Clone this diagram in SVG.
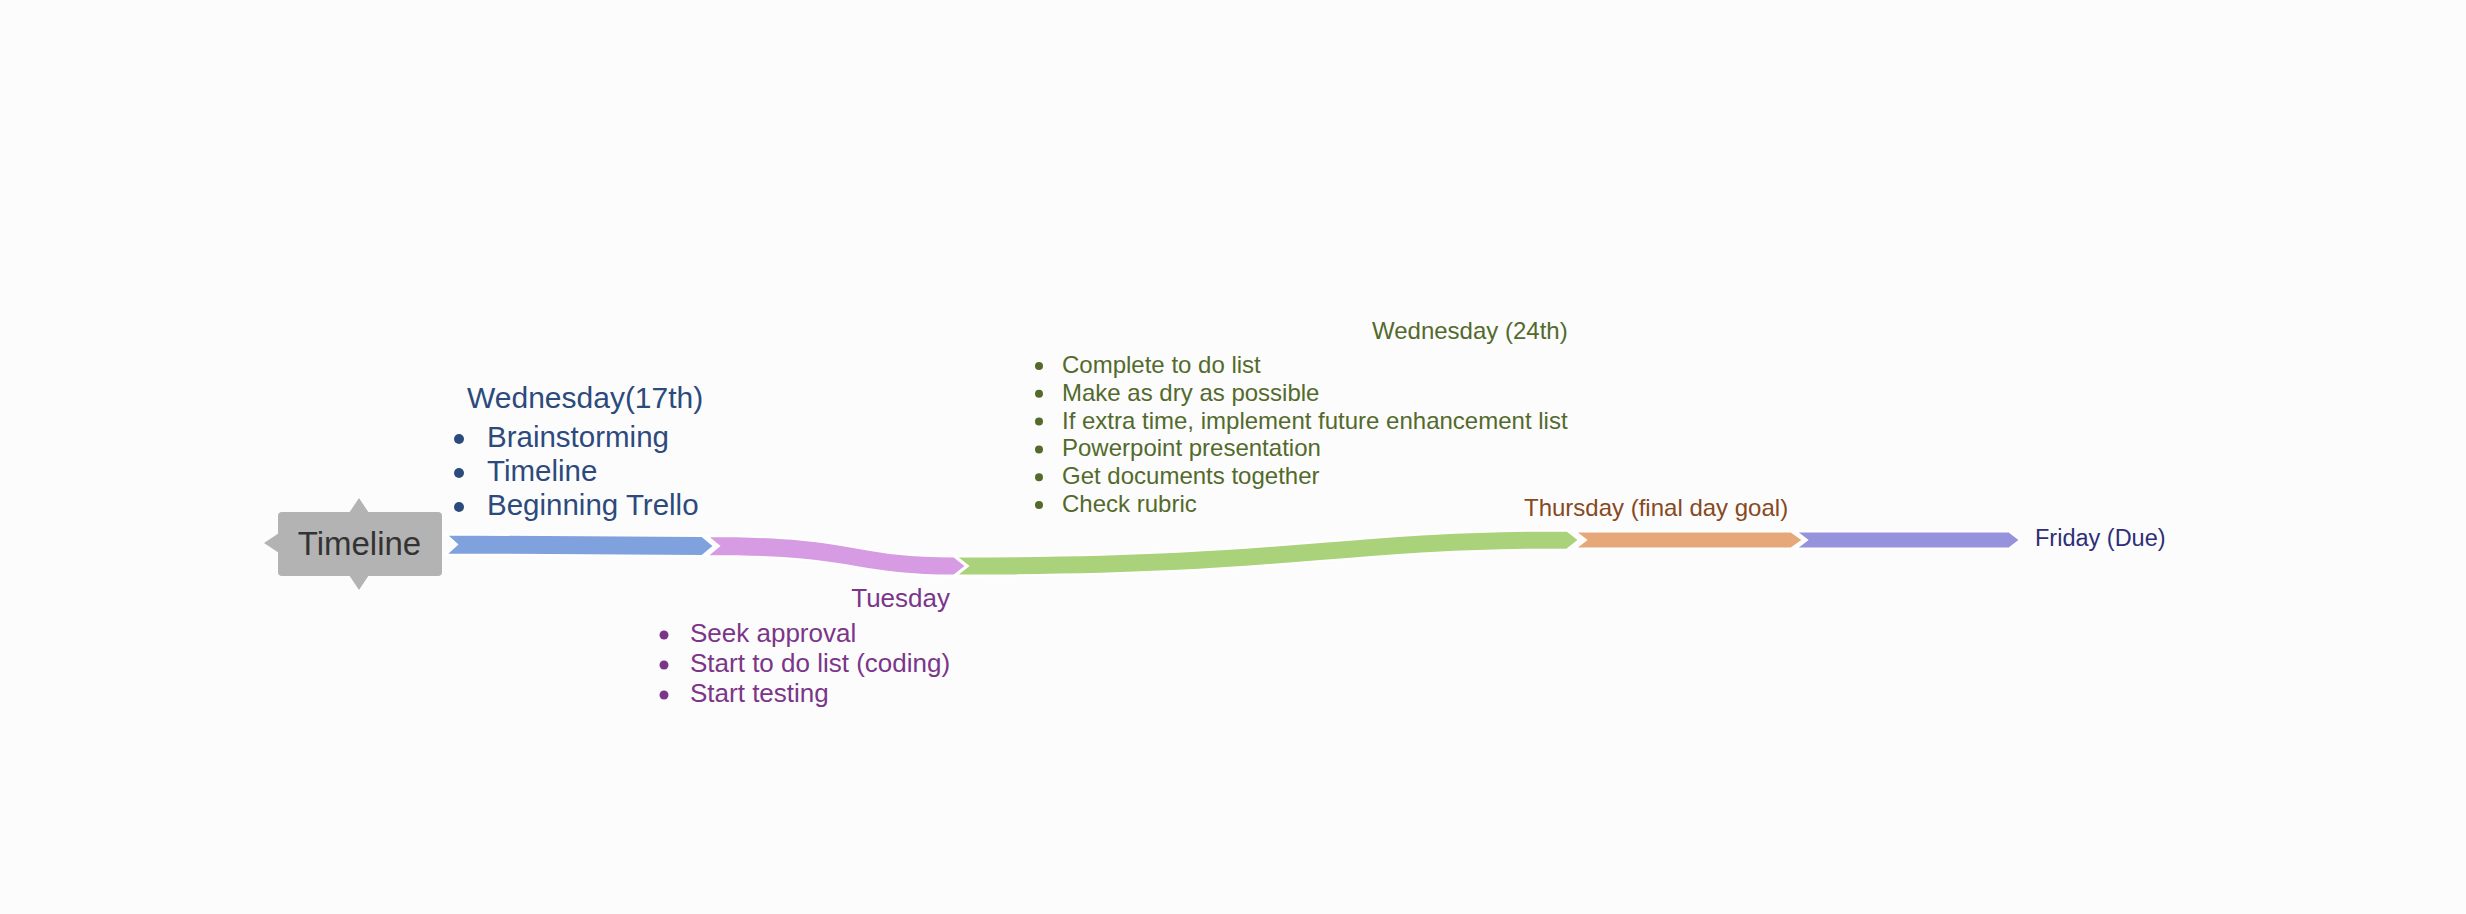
<svg xmlns="http://www.w3.org/2000/svg" width="2466" height="914" viewBox="0 0 2466 914">
<style>
text{font-family:"Liberation Sans",Arial,Helvetica,sans-serif}
.bar{stroke:#ffffff;stroke-width:2;stroke-linejoin:miter}
.blue{fill:#2d4a7c}
.pink{fill:#7b3589}
.green{fill:#536a2c}
.brown{fill:#87491f}
.navy{fill:#2e2f78}
</style>
<rect x="0" y="0" width="2466" height="914" fill="#fcfcfc"/>
<g id="connectors">
<path class="bar" fill="#7fa2de" d="M446,534.5 L702,536 L714,546 L702,556 L446,554.5 L457,544.5 Z"/>
<path class="bar" fill="#d69be3" d="M707,536 C860,536 850,556.5 954,556.5 L966,566 L954,575.5 C850,575.5 860,556 707,556 L719,546 Z"/>
<path class="bar" fill="#aad27b" d="M956,556.5 C1300,556.5 1330,530.5 1567,530.5 L1579,540 L1567,549.5 C1330,549.5 1300,575.5 956,575.5 L968,566 Z"/>
<path class="bar" fill="#e7a879" d="M1575,531.5 L1791,531.5 L1803,540 L1791,548.5 L1575,548.5 L1586,540 Z"/>
<path class="bar" fill="#9792dc" d="M1796,531.5 L2009,531.5 L2020,540 L2009,548.5 L1796,548.5 L1807,540 Z"/>
</g>
<g id="node-timeline">
<polygon fill="#b3b3b3" points="349,513 359,498 369,513"/>
<polygon fill="#b3b3b3" points="349,575 359,590 369,575"/>
<polygon fill="#b3b3b3" points="279,533 264,543 279,553"/>
<rect x="278" y="512" width="164" height="64" rx="4" fill="#b3b3b3"/>
<text x="359.5" y="555" font-size="33" fill="#333333" text-anchor="middle">Timeline</text>
</g>
<g id="node-wednesday17">
<text class="blue" x="467" y="408" font-size="30">Wednesday(17th)</text>
<circle class="blue" cx="459" cy="439" r="5"/>
<circle class="blue" cx="459" cy="473" r="5"/>
<circle class="blue" cx="459" cy="507" r="5"/>
<text class="blue" x="487" y="447" font-size="29.5">Brainstorming</text>
<text class="blue" x="487" y="481" font-size="29.5">Timeline</text>
<text class="blue" x="487" y="515" font-size="29.5">Beginning Trello</text>
</g>
<g id="node-tuesday">
<text class="pink" x="950" y="607" font-size="26" text-anchor="end">Tuesday</text>
<circle class="pink" cx="664" cy="635" r="4.5"/>
<circle class="pink" cx="664" cy="665" r="4.5"/>
<circle class="pink" cx="664" cy="695" r="4.5"/>
<text class="pink" x="690" y="642" font-size="26">Seek approval</text>
<text class="pink" x="690" y="672" font-size="26">Start to do list (coding)</text>
<text class="pink" x="690" y="702" font-size="26">Start testing</text>
</g>
<g id="node-wednesday24">
<text class="green" x="1372" y="339" font-size="24">Wednesday (24th)</text>
<circle class="green" cx="1039" cy="366" r="4"/>
<circle class="green" cx="1039" cy="393.8" r="4"/>
<circle class="green" cx="1039" cy="421.6" r="4"/>
<circle class="green" cx="1039" cy="449.4" r="4"/>
<circle class="green" cx="1039" cy="477.2" r="4"/>
<circle class="green" cx="1039" cy="505" r="4"/>
<text class="green" x="1062" y="373" font-size="24">Complete to do list</text>
<text class="green" x="1062" y="400.8" font-size="24">Make as dry as possible</text>
<text class="green" x="1062" y="428.6" font-size="24">If extra time, implement future enhancement list</text>
<text class="green" x="1062" y="456.4" font-size="24">Powerpoint presentation</text>
<text class="green" x="1062" y="484.2" font-size="24">Get documents together</text>
<text class="green" x="1062" y="512" font-size="24">Check rubric</text>
</g>
<g id="node-thursday">
<text class="brown" x="1524" y="516" font-size="24">Thursday (final day goal)</text>
</g>
<g id="node-friday">
<text class="navy" x="2035" y="546" font-size="23.5">Friday (Due)</text>
</g>
</svg>
